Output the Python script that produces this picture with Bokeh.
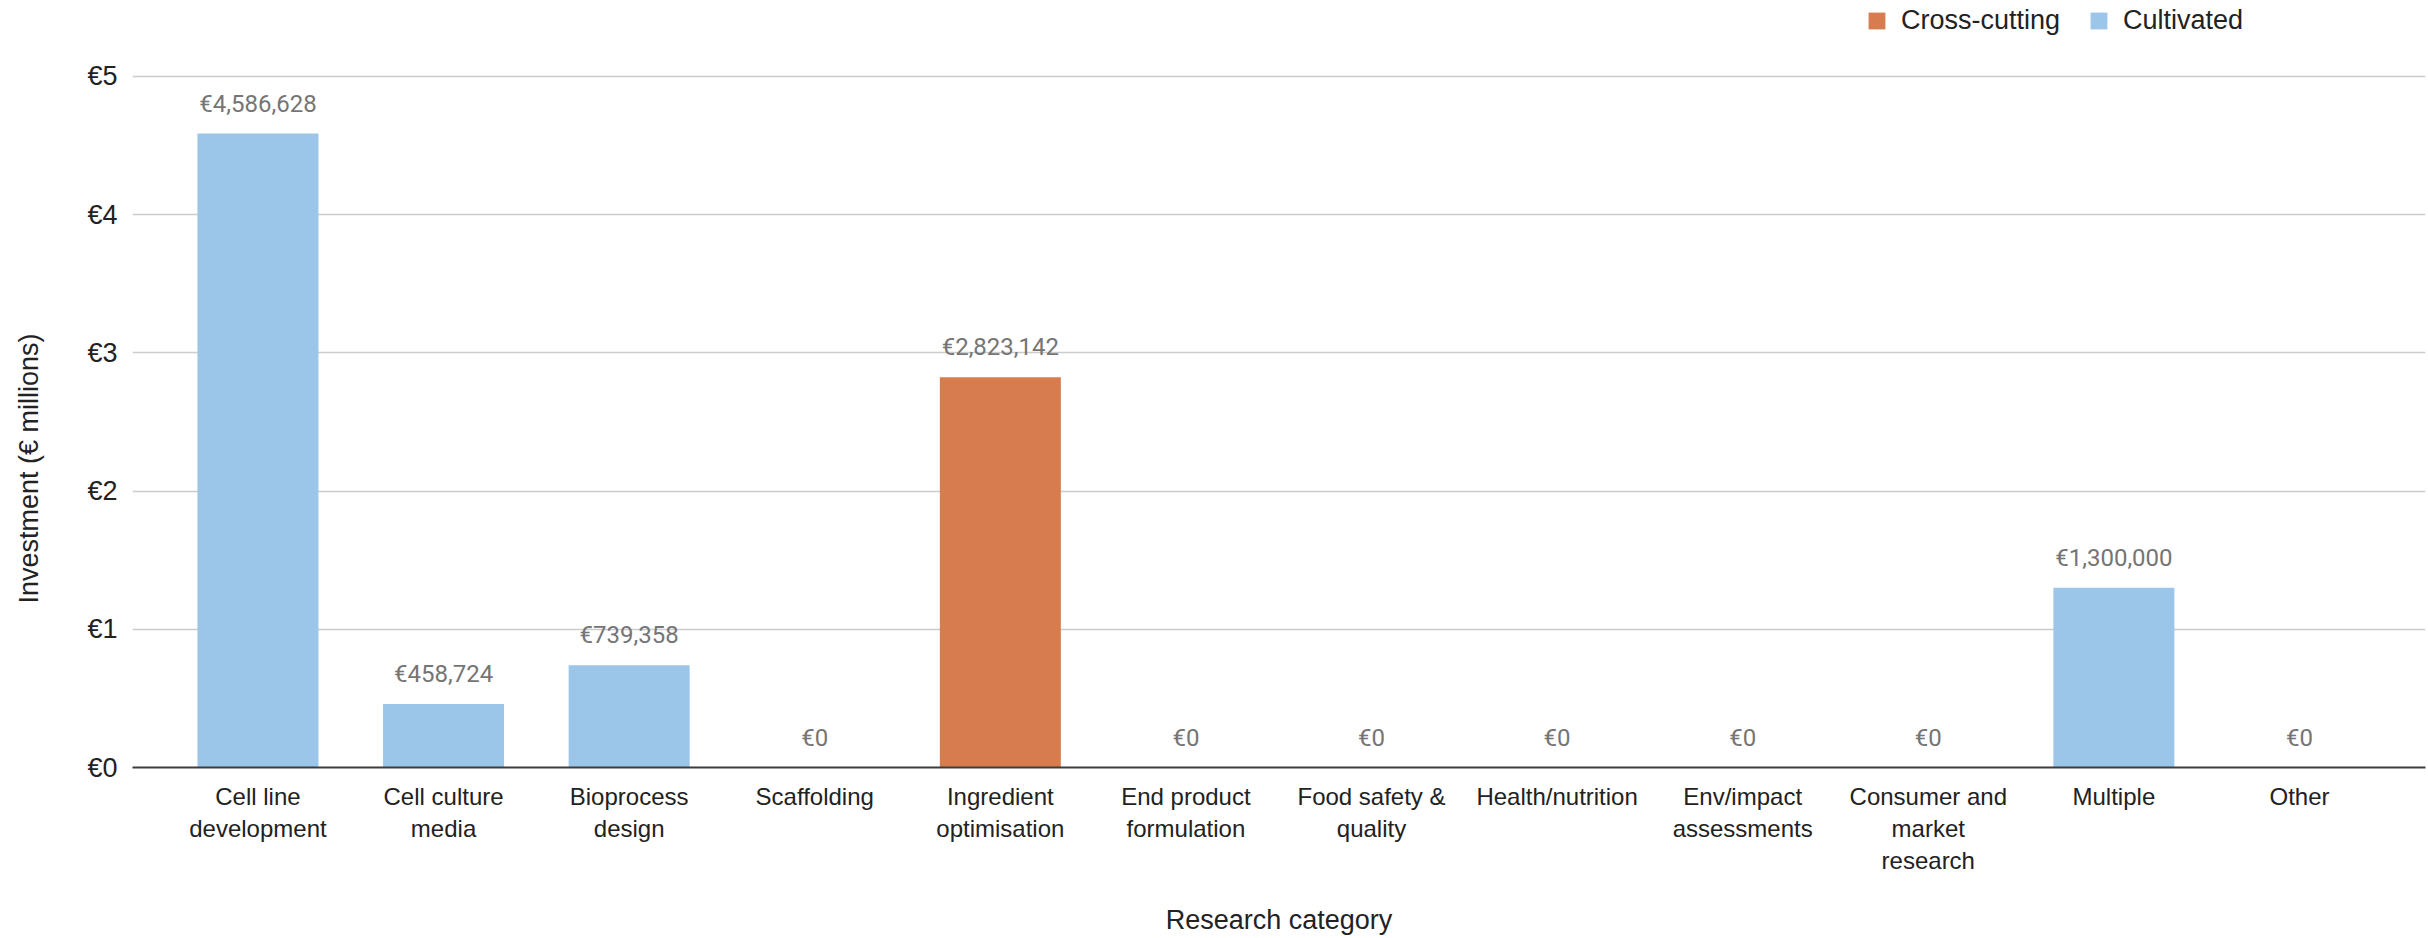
from bokeh.plotting import figure
from bokeh.models import (Range1d, FixedTicker, ColumnDataSource, Legend,
                          LegendItem, Title)
from bokeh.embed import file_html
from bokeh.resources import INLINE
from bokeh.core.properties import value

# ---------------- data ----------------
categories = ["Cell line development", "Cell culture media", "Bioprocess design",
              "Scaffolding", "Ingredient optimisation", "End product formulation",
              "Food safety & quality", "Health/nutrition", "Env/impact assessments",
              "Consumer and market research", "Multiple", "Other"]
tick_labels = ["Cell line\ndevelopment", "Cell culture\nmedia", "Bioprocess\ndesign",
               "Scaffolding", "Ingredient\noptimisation", "End product\nformulation",
               "Food safety &\nquality", "Health/nutrition", "Env/impact\nassessments",
               "Consumer and\nmarket\nresearch", "Multiple", "Other"]
investment_eur = [4586628, 458724, 739358, 0, 2823142, 0, 0, 0, 0, 0, 1300000, 0]
sector = ["Cultivated", "Cultivated", "Cultivated", "Cultivated", "Cross-cutting",
          "Cultivated", "Cultivated", "Cultivated", "Cultivated", "Cultivated",
          "Cultivated", "Cultivated"]
series = ["Cross-cutting", "Cultivated"]
series_colors = ["#d67c4f", "#9cc5ea"]
y_ticks = [0, 1, 2, 3, 4, 5]
y_tick_labels = ["€0", "€1", "€2", "€3", "€4", "€5"]
x_title = "Research category"
y_title = "Investment (€ millions)"

# ---------------- figure ----------------
FONT = "Liberation Sans"
idx = list(range(len(categories)))
millions = [v / 1e6 for v in investment_eur]
data_labels = ["€{:,}".format(v) for v in investment_eur]

# frame spans the top of the canvas so the legend can sit inside it
p = figure(width=2428, height=938, output_backend="svg", toolbar_location=None,
           x_range=Range1d(-0.676, 11.679), y_range=Range1d(0, 5.549),
           min_border_left=132, min_border_right=3, min_border_top=0,
           min_border_bottom=170)
p.outline_line_color = None
p.background_fill_color = "white"
p.border_fill_color = "white"

renderers = []
for s, c in zip(series, series_colors):
    sel = [i for i in idx if sector[i] == s]
    src = ColumnDataSource(dict(x=sel, top=[millions[i] for i in sel]))
    r = p.vbar(x="x", top="top", bottom=0, width=0.652, source=src,
               fill_color=c, line_color=None)
    renderers.append(r)

lab_src = ColumnDataSource(dict(x=idx, y=millions, t=data_labels))
p.text(x="x", y="y", text="t", source=lab_src, text_align="center",
       text_baseline="alphabetic", y_offset=-30, text_font=value("Roboto"),
       text_font_size="24px", text_color="#757575")

# x axis
xa = p.xaxis[0]
xa.ticker = FixedTicker(ticks=idx)
xa.major_label_overrides = {i: lab for i, lab in zip(idx, tick_labels)}
xa.major_tick_line_color = None
xa.minor_tick_line_color = None
xa.major_tick_out = 0
xa.major_label_standoff = 15
xa.major_label_text_font = FONT
xa.major_label_text_font_size = "24px"
xa.major_label_text_color = "#222222"
xa.major_label_text_line_height = 1.2
xa.axis_line_color = "#3c3c3c"
xa.axis_line_width = 2
xa.axis_label = x_title
xa.axis_label_text_font = FONT
xa.axis_label_text_font_size = "27px"
xa.axis_label_text_font_style = "normal"
xa.axis_label_text_color = "#222222"
xa.axis_label_standoff = 28

# y axis
ya = p.yaxis[0]
ya.ticker = FixedTicker(ticks=y_ticks)
ya.major_label_overrides = {t: lab for t, lab in zip(y_ticks, y_tick_labels)}
ya.axis_line_color = None
ya.major_tick_line_color = None
ya.minor_tick_line_color = None
ya.major_tick_out = 0
ya.major_label_standoff = 15
ya.major_label_text_font = FONT
ya.major_label_text_font_size = "27px"
ya.major_label_text_color = "#222222"

p.xgrid.grid_line_color = None
p.ygrid.grid_line_color = "#cccccc"
p.ygrid.grid_line_width = 1.3

# y axis title in a side panel, shifted along the axis; the trailing empty
# line pushes the visible line further out from the tick labels
yt = Title(text=y_title + "\n", align="left", offset=164, vertical_align="top",
           standoff=18, text_font=FONT, text_font_size="27px",
           text_font_style="normal", text_color="#222222")
p.add_layout(yt, "left")

legend = Legend(items=[LegendItem(label=s, renderers=[r]) for s, r in zip(series, renderers)],
                orientation="horizontal", location=(1734, 731),
                glyph_width=21, glyph_height=21, label_height=21,
                label_standoff=14, spacing=28,
                padding=0, margin=0, border_line_color=None,
                background_fill_alpha=0, label_text_font=FONT,
                label_text_font_size="27px", label_text_color="#222222")
p.add_layout(legend)

open("out.html", "w").write(file_html(p, INLINE))
